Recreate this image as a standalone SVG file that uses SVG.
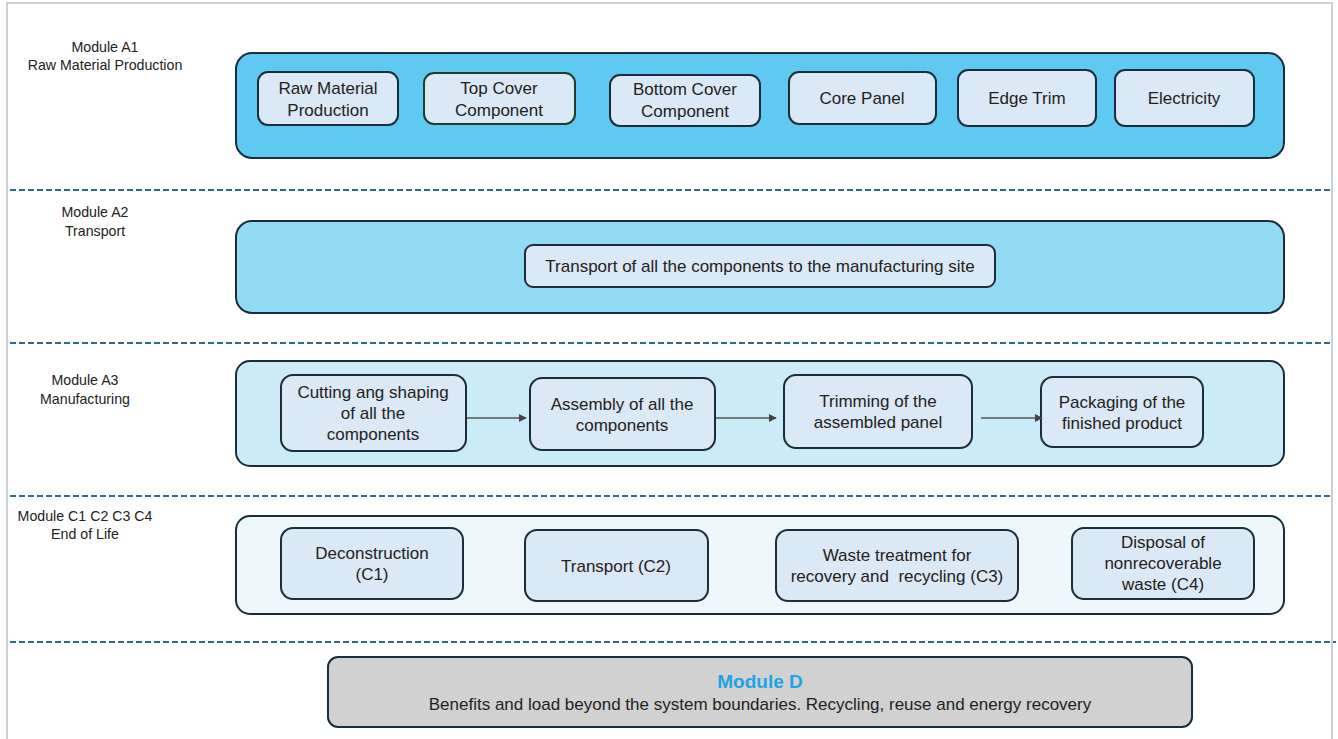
<svg xmlns="http://www.w3.org/2000/svg" width="1338" height="739" viewBox="0 0 1338 739">
<defs>
<style>
.frame{fill:#ffffff;stroke:#c9d0d6;stroke-width:2}
.sep{stroke:#2f6b8c;stroke-width:2;stroke-dasharray:6 3;fill:none}
.band{stroke:#1b2d3b;stroke-width:2}
.node{fill:#dbe8f5;stroke:#1b2d3b;stroke-width:2}
.t{font-family:"Liberation Sans",Arial,sans-serif;font-size:17px;fill:#222;text-anchor:middle}
.lbl{font-family:"Liberation Sans",Arial,sans-serif;font-size:14.2px;fill:#222;text-anchor:middle}
.conn{stroke:#555;stroke-width:1.5;fill:none;marker-end:url(#ah)}
</style>
<marker id="ah" viewBox="0 0 10 10" refX="9" refY="5" markerWidth="8" markerHeight="8" orient="auto" markerUnits="userSpaceOnUse"><path d="M0,0 L10,5 L0,10 z" fill="#444"/></marker>
</defs>
<rect x="7" y="3" width="1325" height="745" class="frame"/>
<g id="separators">
<line x1="10" y1="190" x2="1330" y2="190" class="sep"/>
<line x1="10" y1="343" x2="1330" y2="343" class="sep"/>
<line x1="10" y1="496" x2="1330" y2="496" class="sep"/>
<line x1="10" y1="642" x2="1336" y2="642" class="sep"/>
</g>
<g id="labels">
<text class="lbl" x="105" y="52">Module A1</text>
<text class="lbl" x="105" y="70">Raw Material Production</text>
<text class="lbl" x="95" y="217">Module A2</text>
<text class="lbl" x="95" y="236">Transport</text>
<text class="lbl" x="85" y="385">Module A3</text>
<text class="lbl" x="85" y="404">Manufacturing</text>
<text class="lbl" x="85" y="521">Module C1 C2 C3 C4</text>
<text class="lbl" x="85" y="539">End of Life</text>
</g>
<g id="band-A1"><rect x="236" y="53" width="1048" height="105" rx="16" class="band" fill="#60c9f2"/></g>
<g id="band-A2"><rect x="236" y="221" width="1048" height="92" rx="16" class="band" fill="#92dbf5"/></g>
<g id="band-A3"><rect x="236" y="361" width="1048" height="105" rx="14" class="band" fill="#ccebf9"/></g>
<g id="band-C"><rect x="236" y="516" width="1048" height="98" rx="14" class="band" fill="#eef7fc"/></g>
<g id="n-raw"><rect x="258" y="72" width="140" height="53" rx="10" class="node"/><text class="t" x="328" y="94">Raw Material</text><text class="t" x="328" y="116">Production</text></g>
<g id="n-top"><rect x="424" y="73" width="151" height="51" rx="10" class="node" style="stroke:#1f3d28"/><text class="t" x="499" y="94">Top Cover</text><text class="t" x="499" y="116">Component</text></g>
<g id="n-bottom"><rect x="610" y="75" width="150" height="51" rx="10" class="node"/><text class="t" x="685" y="95">Bottom Cover</text><text class="t" x="685" y="117">Component</text></g>
<g id="n-core"><rect x="789" y="72" width="147" height="52" rx="10" class="node"/><text class="t" x="862" y="104">Core Panel</text></g>
<g id="n-edge"><rect x="958" y="70" width="138" height="56" rx="10" class="node"/><text class="t" x="1027" y="104">Edge Trim</text></g>
<g id="n-elec"><rect x="1115" y="70" width="139" height="56" rx="10" class="node"/><text class="t" x="1184" y="104">Electricity</text></g>
<g id="n-transport"><rect x="525" y="245" width="470" height="42" rx="8" class="node"/><text class="t" x="760" y="272">Transport of all the components to the manufacturing site</text></g>
<g id="n-cut"><rect x="281" y="375" width="185" height="76" rx="12" class="node"/><text class="t" x="373" y="398">Cutting ang shaping</text><text class="t" x="373" y="419">of all the</text><text class="t" x="373" y="440">components</text></g>
<g id="n-assembly"><rect x="530" y="378" width="185" height="72" rx="12" class="node"/><text class="t" x="622" y="410">Assembly of all the</text><text class="t" x="622" y="431">components</text></g>
<g id="n-trim"><rect x="784" y="375" width="188" height="73" rx="12" class="node"/><text class="t" x="878" y="407">Trimming of the</text><text class="t" x="878" y="428">assembled panel</text></g>
<g id="n-pack"><rect x="1041" y="377" width="162" height="70" rx="12" class="node"/><text class="t" x="1122" y="408">Packaging of the</text><text class="t" x="1122" y="429">finished product</text></g>
<g id="n-c1"><rect x="281" y="528" width="182" height="71" rx="12" class="node"/><text class="t" x="372" y="559">Deconstruction</text><text class="t" x="372" y="580">(C1)</text></g>
<g id="n-c2"><rect x="525" y="530" width="183" height="71" rx="12" class="node"/><text class="t" x="616" y="572">Transport (C2)</text></g>
<g id="n-c3"><rect x="776" y="530" width="242" height="71" rx="12" class="node"/><text class="t" x="897" y="561">Waste treatment for</text><text class="t" x="897" y="582" xml:space="preserve">recovery and  recycling (C3)</text></g>
<g id="n-c4"><rect x="1072" y="528" width="182" height="71" rx="12" class="node"/><text class="t" x="1163" y="548">Disposal of</text><text class="t" x="1163" y="569">nonrecoverable</text><text class="t" x="1163" y="590">waste (C4)</text></g>
<g id="n-d"><rect x="328" y="657" width="864" height="70" rx="10" fill="#d1d1d1" stroke="#1b2d3b" stroke-width="2"/><text class="t" x="760" y="688" style="fill:#1ba6e3;font-weight:bold;font-size:19px">Module D</text><text class="t" x="760" y="710">Benefits and load beyond the system boundaries. Recycling, reuse and energy recovery</text></g>
<g id="connectors">
<line x1="467" y1="418" x2="526" y2="418" class="conn"/>
<line x1="716" y1="418" x2="776" y2="418" class="conn"/>
<line x1="981" y1="418" x2="1042" y2="418" class="conn"/>
</g>
</svg>
